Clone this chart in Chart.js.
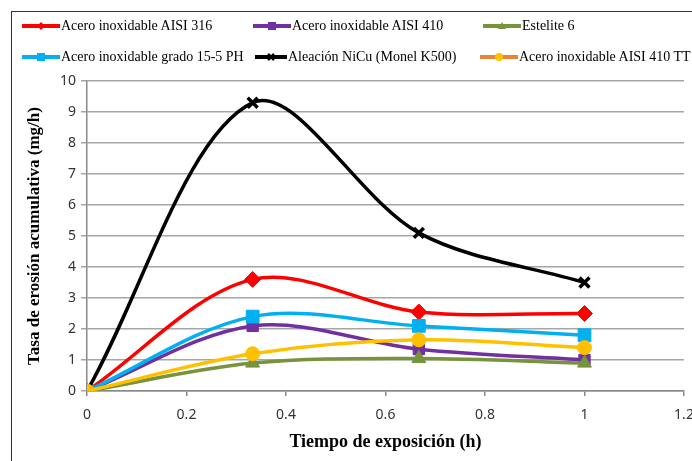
<!DOCTYPE html>
<html>
<head>
<meta charset="utf-8">
<script src="https://cdn.jsdelivr.net/npm/chart.js@4/dist/chart.umd.min.js"></script>
<style>
  body { margin: 0; background: #fff; }
  #wrap { position: relative; width: 692px; height: 461px; overflow: hidden; background: #fff; }
  #frame { position: absolute; left: 11px; top: 11px; width: 800px; height: 600px;
           border-left: 1.5px solid #333; border-top: 1.5px solid #333; }
  #c { position: absolute; left: 0; top: 0; }
  .lg { position: absolute; font-family: "Liberation Serif", "Times New Roman", serif;
        font-size: 14px; color: #000; white-space: nowrap; line-height: 16px; }
  .lg svg { vertical-align: middle; margin-right: 1px; position: relative; top: -1px; }
</style>
</head>
<body>
<div id="wrap">
  <div id="frame"></div>
  <canvas id="c" width="720" height="461"></canvas>
  <div id="legend"></div>
</div>
<script>
	// ******************************************************** DATA
	var tiempo   = [0, 0.333, 0.667, 1];
	var nombres  = [ "Acero inoxidable AISI 316", "Acero inoxidable AISI 410", "Estelite 6",
	                 "Acero inoxidable grado 15-5 PH", "Aleación NiCu (Monel K500)", "Acero inoxidable AISI 410 TT" ];
	var aisi316  = [0, 3.6, 2.55, 2.5];
	var aisi410  = [0, 2.1, 1.35, 1.0];
	var estelite = [0, 0.9, 1.05, 0.9];
	var ph155    = [0, 2.4, 2.1, 1.8];
	var nicu     = [0, 9.3, 5.1, 3.5];
	var aisi410tt= [0, 1.2, 1.65, 1.4];
	var xTicks   = [0, 0.2, 0.4, 0.6, 0.8, 1, 1.2];

	// ******************************************************** STYLES
	var series = [
		{ v: aisi316,   c: "#FF0000", m: "rectRot",  r: 8 },
		{ v: aisi410,   c: "#7030A0", m: "rect",     r: 8 },
		{ v: estelite,  c: "#77933C", m: "triangle", r: 8 },
		{ v: ph155,     c: "#00B0F0", m: "rect",     r: 9 },
		{ v: nicu,      c: "#000000", m: "crossRot", r: 7 },
		{ v: aisi410tt, c: "#FFC000", m: "circle",   r: 7 }
	];

	function pts(vals) {
		return vals.map(function (y, i) { return { x: tiempo[i], y: y }; });
	}

	var datasets = series.map(function (s, i) {
		var cross = s.m === "crossRot";
		return {
			label: nombres[i],
			data: pts(s.v),
			borderColor: s.c,
			backgroundColor: s.c,
			borderWidth: 3.5,
			tension: 0.33,
			pointStyle: s.m,
			pointRadius: s.r,
			pointBorderWidth: cross ? 3.5 : 1,
			pointBorderColor: s.c,
			pointBackgroundColor: s.c,
			order: series.length - i
		};
	});

	// ******************************************************** LEGEND
	var lgPos = [ [22, 26], [253, 26], [483, 26], [22, 57], [255, 57], [480, 57] ];
	var lgLine = [ null, null, null, null, null, "#E8833A" ];
	var lgHtml = "";
	series.forEach(function (s, i) {
		var lc = lgLine[i] || s.c;
		var w = (s.m === "crossRot") ? 32 : 38;
		var cx = w / 2;
		var mk = "";
		if (s.m === "rectRot") mk = '<polygon points="' + cx + ',2 ' + (cx + 4) + ',6 ' + cx + ',10 ' + (cx - 4) + ',6" fill="' + s.c + '"/>';
		if (s.m === "rect") mk = '<rect x="' + (cx - 4) + '" y="2" width="8" height="8" fill="' + s.c + '"/>';
		if (s.m === "triangle") mk = '<polygon points="' + cx + ',2 ' + (cx + 4) + ',9 ' + (cx - 4) + ',9" fill="' + s.c + '"/>';
		if (s.m === "crossRot") mk = '<path d="M' + (cx - 3) + ',3 L' + (cx + 3) + ',9 M' + (cx + 3) + ',3 L' + (cx - 3) + ',9" stroke="' + s.c + '" stroke-width="2.5"/>';
		if (s.m === "circle") mk = '<circle cx="' + cx + '" cy="6" r="4" fill="' + s.c + '"/>';
		lgHtml += '<div class="lg" style="left:' + lgPos[i][0] + 'px;top:' + (lgPos[i][1] - 8) + 'px">' +
			'<svg width="' + w + '" height="12"><line x1="0" y1="6" x2="' + w + '" y2="6" stroke="' + lc + '" stroke-width="4"/>' +
			mk + '</svg>' + nombres[i] + '</div>';
	});
	document.getElementById("legend").innerHTML = lgHtml;

	// ******************************************************** CHART
	var tickFont = { family: "'Noto Sans', 'Open Sans', sans-serif", size: 14 };
	var titleFont = { family: "'Liberation Serif', 'Times New Roman', serif", size: 18, weight: "bold" };

	var config = {
		type: 'line',
		data: { datasets: datasets },
		options: {
			responsive: false,
			animation: false,
			layout: { padding: { left: 0, top: 81, right: 36, bottom: 0 } },
			plugins: { legend: { display: false }, tooltip: { enabled: false } },
			scales: {
				x: {
					type: 'linear',
					min: 0, max: 1.2,
					afterBuildTicks: function (scale) {
						scale.ticks = xTicks.map(function (v) { return { value: v }; });
					},
					afterFit: function (scale) { scale.height = 70; },
					ticks: {
						font: tickFont, color: "#333", padding: 11, maxRotation: 0,
						callback: function (v) { return String(Number(v.toFixed(1))); }
					},
					grid: { drawOnChartArea: false, drawTicks: true, tickLength: 5, color: "#888", lineWidth: 1.5 },
					border: { display: true, color: "#888", width: 1.5 },
					title: { display: true, text: "Tiempo de exposición (h)", font: titleFont, color: "#000",
					         padding: { top: 0, bottom: 8 } }
				},
				y: {
					min: 0, max: 10,
					afterFit: function (scale) { scale.width = 87; },
					ticks: { stepSize: 1, font: tickFont, color: "#333", padding: 5 },
					grid: { color: "#A6A6A6", lineWidth: 1.5, tickLength: 6 },
					border: { display: true, color: "#888", width: 1.5 },
					title: { display: true, text: "Tasa de erosión acumulativa (mg/h)", font: { family: titleFont.family, size: 17, weight: "bold" },
					         color: "#000", padding: { top: 24, bottom: 0 } }
				}
			}
		}
	};

	var ctx = document.getElementById("c").getContext("2d");
	window.myLine = new Chart(ctx, config);
</script>
</body>
</html>
